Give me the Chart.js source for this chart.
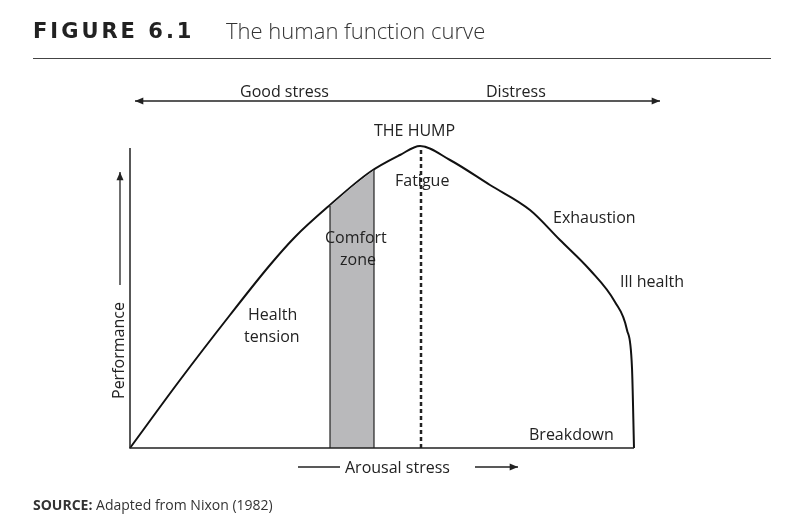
<!DOCTYPE html>
<html><head><meta charset="utf-8">
<script src="https://cdn.jsdelivr.net/npm/chart.js@4"></script>
<style>
body{margin:0;width:800px;height:517px;background:#fff;position:relative;overflow:hidden;font-family:"Open Sans",sans-serif;color:#222}
#c{position:absolute;left:0;top:0}
.t{position:absolute;white-space:nowrap;font-size:16px;line-height:1}
</style></head><body>
<canvas id="c" width="800" height="517"></canvas>
<div class="t" style="left:33px;top:21px;font-size:21px;font-weight:800;letter-spacing:3px;font-family:'DejaVu Sans',sans-serif">FIGURE 6.1</div>
<div class="t" style="left:226px;top:19px;font-size:22px;font-weight:300;color:#333">The human function curve</div>
<div style="position:absolute;left:33px;top:58px;width:738px;height:1px;background:#444"></div>
<div class="t" style="left:240px;top:83px">Good stress</div>
<div class="t" style="left:486px;top:83px">Distress</div>
<div class="t" style="left:374px;top:122px">THE HUMP</div>
<div class="t" style="left:395px;top:172px">Fatigue</div>
<div class="t" style="left:553px;top:209px">Exhaustion</div>
<div class="t" style="left:620px;top:273px">Ill health</div>
<div class="t" style="left:325px;top:229px">Comfort</div>
<div class="t" style="left:340px;top:251px">zone</div>
<div class="t" style="left:248px;top:306px">Health</div>
<div class="t" style="left:244px;top:328px">tension</div>
<div class="t" style="left:529px;top:426px">Breakdown</div>
<div class="t" style="left:345px;top:459px">Arousal stress</div>
<div class="t" style="left:110px;top:399px;transform-origin:0 0;transform:rotate(-90deg)">Performance</div>
<div class="t" style="left:33px;top:498px;font-size:14px;color:#333"><b>SOURCE:</b> Adapted from Nixon (1982)</div>
<script>
const curveX=[0,50,100,140,165,200,240,270,290,320,360,400,430,460,485,497,502,504];
const curveY=[0,68,133,183,211,243,276,293,302,288,263,238,208,178,146,118,80,0];
const zoneX=[200,222,244];
const zoneY=[242,261,278];
const humpX=291;
const deco={id:'deco',afterDraw(ch){
 const c=ch.ctx,xs=ch.scales.x,ys=ch.scales.y;
 const X=v=>xs.getPixelForValue(v),Y=v=>ys.getPixelForValue(v);
 c.save();c.strokeStyle='#222';c.fillStyle='#222';c.lineWidth=1.5;
 c.beginPath();c.moveTo(X(0),Y(300));c.lineTo(X(0),Y(0));c.lineTo(X(504),Y(0));c.stroke();
 c.setLineDash([4,3]);c.lineWidth=2.5;c.beginPath();c.moveTo(X(humpX),Y(0));c.lineTo(X(humpX),Y(302));c.stroke();c.setLineDash([]);
 c.lineWidth=1.2;
 [0,1].forEach(i=>{const x=X(zoneX[i*2]);c.beginPath();c.moveTo(x,Y(0));c.lineTo(x,Y(zoneY[i*2]));c.stroke();});
 function arrow(x1,y1,x2,y2){c.beginPath();c.moveTo(x1,y1);c.lineTo(x2,y2);c.stroke();
  const a=Math.atan2(y2-y1,x2-x1);c.beginPath();c.moveTo(x2,y2);
  c.lineTo(x2-9*Math.cos(a-0.4),y2-9*Math.sin(a-0.4));c.lineTo(x2-9*Math.cos(a+0.4),y2-9*Math.sin(a+0.4));c.closePath();c.fill();}
 c.lineWidth=1.3;
 arrow(400,101,135,101);arrow(400,101,660,101);
 arrow(120,285,120,172);
 c.beginPath();c.moveTo(298,467);c.lineTo(340,467);c.stroke();
 arrow(475,467,518,467);
 c.restore();}};
new Chart(document.getElementById('c'),{type:'line',
 data:{datasets:[
  {data:zoneX.map((x,i)=>({x,y:zoneY[i]})),borderWidth:0,backgroundColor:'#b9b9bb',fill:'origin',pointRadius:0,tension:0},
  {data:curveX.map((x,i)=>({x,y:curveY[i]})),borderColor:'#111',borderWidth:2,pointRadius:0,cubicInterpolationMode:'monotone',fill:false,clip:false}
 ]},
 options:{animation:false,responsive:false,events:[],
  layout:{padding:{left:130,right:165,top:148,bottom:69}},
  plugins:{legend:{display:false},tooltip:{enabled:false}},
  scales:{x:{type:'linear',min:0,max:505,display:false},y:{min:0,max:300,display:false}}},
 plugins:[deco]
});
</script>
</body></html>
